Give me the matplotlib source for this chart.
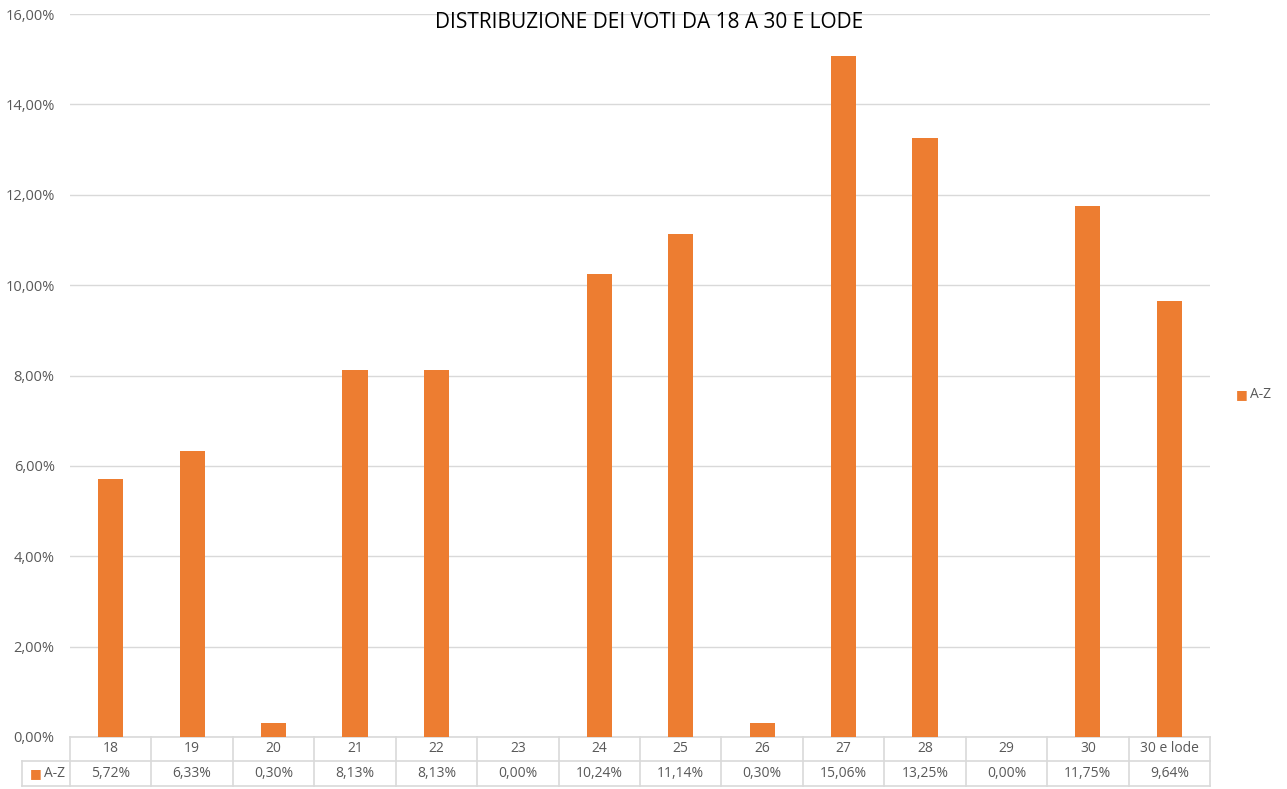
import numpy as np
import matplotlib.pyplot as plt
import matplotlib.transforms as mtransforms
from matplotlib.ticker import FuncFormatter

plt.rcParams['font.family'] = ['Open Sans', 'DejaVu Sans']

voti = ['18', '19', '20', '21', '22', '23', '24', '25', '26', '27', '28', '29', '30', '30 e lode']
az = [5.72, 6.33, 0.30, 8.13, 8.13, 0.00, 10.24, 11.14, 0.30, 15.06, 13.25, 0.00, 11.75, 9.64]
serie = 'A-Z'
titolo = 'DISTRIBUZIONE DEI VOTI DA 18 A 30 E LODE'

arancio = '#ed7d31'
grigio = '#d9d9d9'
testo = '#595959'

fig = plt.figure(figsize=(12.87, 7.89), dpi=100)
ax = fig.add_axes([70/1287, 52/789, 1140/1287, 723/789])

x = np.arange(len(voti))
ax.bar(x, az, width=0.31, color=arancio, zorder=3)
ax.set_xlim(-0.5, len(voti) - 0.5)
ax.set_ylim(0, 16)
ax.set_yticks(np.arange(0, 17, 2))
ax.yaxis.set_major_formatter(FuncFormatter(lambda v, p: f'{v:.2f}%'.replace('.', ',')))
ax.tick_params(axis='y', length=0, labelsize=10.5, labelcolor=testo, pad=11)
ax.set_xticks([])
ax.grid(axis='y', color=grigio, linewidth=1, zorder=0)
for s in ax.spines.values():
    s.set_visible(False)

fig.text(649/1287, 1 - 22/789, titolo, ha='center', va='center', fontsize=15, color='black')

# tabella dati sotto il grafico
tr = mtransforms.blended_transform_factory(ax.transData, fig.transFigure)
y0 = 52/789
y1 = 28/789
y2 = 3/789
xl = -0.5 - 48/(1140/14)
lc = dict(color=grigio, linewidth=1.2, clip_on=False, transform=tr)
ax.plot([-0.5, len(voti) - 0.5], [y0, y0], **lc)
ax.plot([xl, len(voti) - 0.5], [y1, y1], **lc)
ax.plot([xl, len(voti) - 0.5], [y2, y2], **lc)
ax.plot([xl, xl], [y1, y2], **lc)
for b in np.arange(len(voti) + 1) - 0.5:
    ax.plot([b, b], [y0, y2], **lc)
for i, (v, val) in enumerate(zip(voti, az)):
    ax.text(i, (y0 + y1) / 2, v, transform=tr, ha='center', va='center', fontsize=10, color=testo)
    ax.text(i, (y1 + y2) / 2, f'{val:.2f}%'.replace('.', ','), transform=tr,
            ha='center', va='center', fontsize=10, color=testo)
ax.text(xl + 0.1, (y1 + y2) / 2, '■', transform=tr, ha='left', va='center', fontsize=9,
        color=arancio, family=['DejaVu Sans'])
ax.text(xl + 0.27, (y1 + y2) / 2, serie, transform=tr, ha='left', va='center', fontsize=10, color=testo)

# legenda a destra
fig.text(1236/1287, 1 - 395/789, '■', ha='left', va='center', fontsize=9, color=arancio, family=['DejaVu Sans'])
fig.text(1250/1287, 1 - 395/789, serie, ha='left', va='center', fontsize=10, color=testo)

fig.savefig('out.png', dpi=100)
